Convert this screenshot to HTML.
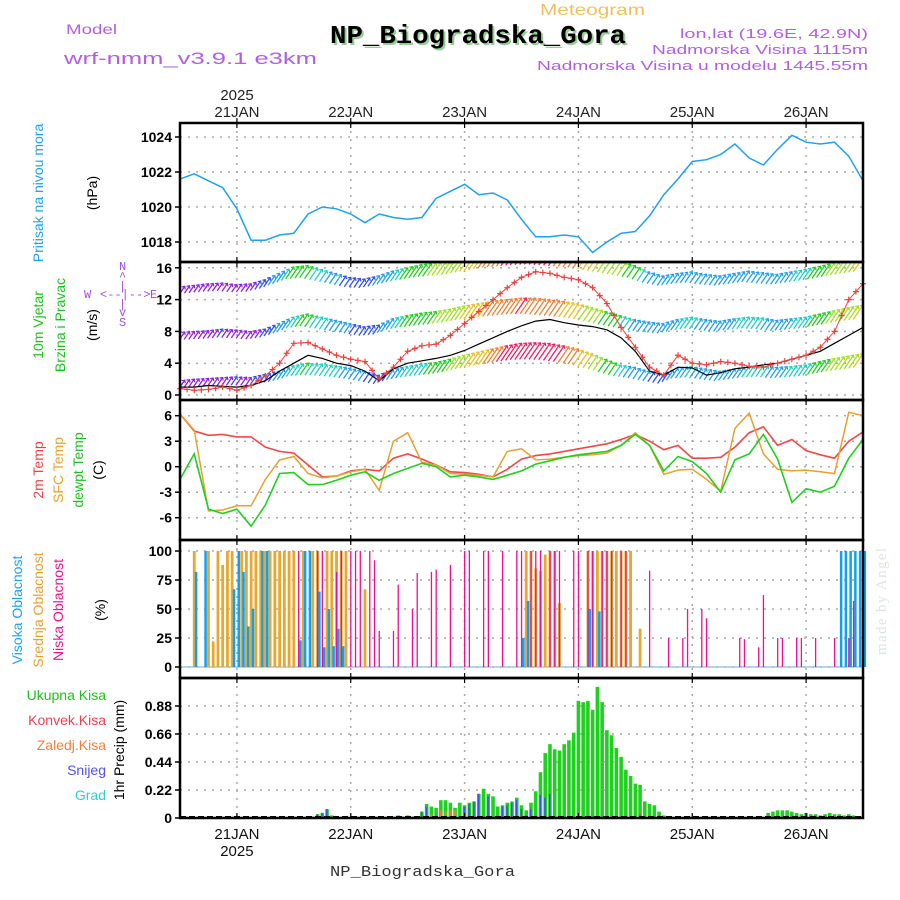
<!DOCTYPE html>
<html><head><meta charset="utf-8"><style>
html,body{margin:0;padding:0;background:#fff;}
svg{display:block;font-family:"Liberation Sans",sans-serif;}
</style></head><body>
<svg id="chart" xmlns="http://www.w3.org/2000/svg" width="900" height="900" viewBox="0 0 900 900">
<rect x="0" y="0" width="900" height="900" fill="#fff"/>
<text x="540" y="15" font-size="16" fill="#f0c060" textLength="105" lengthAdjust="spacingAndGlyphs">Meteogram</text>
<text x="332" y="45" font-size="26" font-weight="bold" font-family="Liberation Mono, monospace" fill="#9c9" textLength="296" lengthAdjust="spacingAndGlyphs">NP_Biogradska_Gora</text>
<text x="330" y="43" font-size="26" font-weight="bold" font-family="Liberation Mono, monospace" fill="#000" textLength="296" lengthAdjust="spacingAndGlyphs">NP_Biogradska_Gora</text>
<text x="66" y="34" font-size="14" fill="#b060e0" textLength="51" lengthAdjust="spacingAndGlyphs">Model</text>
<text x="64" y="64" font-size="17" fill="#b060e0" textLength="253" lengthAdjust="spacingAndGlyphs">wrf-nmm_v3.9.1 e3km</text>
<text x="868" y="38" font-size="13" fill="#b060e0" text-anchor="end" textLength="188" lengthAdjust="spacingAndGlyphs">lon,lat (19.6E, 42.9N)</text>
<text x="868" y="54" font-size="13" fill="#b060e0" text-anchor="end" textLength="216" lengthAdjust="spacingAndGlyphs">Nadmorska Visina 1115m</text>
<text x="868" y="70" font-size="13" fill="#b060e0" text-anchor="end" textLength="331" lengthAdjust="spacingAndGlyphs">Nadmorska Visina u modelu 1445.55m</text>
<text x="237" y="100" font-size="15" fill="#222" text-anchor="middle">2025</text>
<text x="330" y="876" font-size="15" font-family="Liberation Mono, monospace" fill="#333" textLength="185" lengthAdjust="spacingAndGlyphs">NP_Biogradska_Gora</text>
<text transform="translate(886,655) rotate(-90)" font-size="15" font-family="Liberation Serif, serif" fill="#dde5dd" textLength="107">made by Angel</text>
<!-- left axis titles -->
<text transform="translate(43,193) rotate(-90)" font-size="14" fill="#20a0f0" text-anchor="middle">Pritisak na nivou mora</text>
<text transform="translate(97,193) rotate(-90)" font-size="14" fill="#000" text-anchor="middle">(hPa)</text>
<text transform="translate(43,325) rotate(-90)" font-size="14" fill="#20c020" text-anchor="middle">10m Vjetar</text>
<text transform="translate(65,325) rotate(-90)" font-size="14" fill="#20c020" text-anchor="middle">Brzina i Pravac</text>
<text transform="translate(97,325) rotate(-90)" font-size="14" fill="#000" text-anchor="middle">(m/s)</text>
<g font-size="12" fill="#a050e0" font-family="Liberation Mono, monospace">
<text x="119" y="270">N</text><text x="119" y="280">^</text><text x="119" y="290">|</text>
<text x="100" y="298">&lt;--|--&gt;</text><text x="84" y="298">W</text><text x="150" y="298">E</text>
<text x="119" y="308">|</text><text x="119" y="316">v</text><text x="119" y="326">S</text>
</g>
<text transform="translate(43,470) rotate(-90)" font-size="14" fill="#f04040" text-anchor="middle">2m Temp</text>
<text transform="translate(63,470) rotate(-90)" font-size="14" fill="#e8a030" text-anchor="middle">SFC Temp</text>
<text transform="translate(83,470) rotate(-90)" font-size="14" fill="#20c020" text-anchor="middle">dewpt Temp</text>
<text transform="translate(103,470) rotate(-90)" font-size="14" fill="#000" text-anchor="middle">(C)</text>
<text transform="translate(22,610) rotate(-90)" font-size="14" fill="#20a0f0" text-anchor="middle">Visoka Oblacnost</text>
<text transform="translate(43,610) rotate(-90)" font-size="14" fill="#e8a030" text-anchor="middle">Srednja Oblacnost</text>
<text transform="translate(63,610) rotate(-90)" font-size="14" fill="#f01090" text-anchor="middle">Niska Oblacnost</text>
<text transform="translate(105,610) rotate(-90)" font-size="14" fill="#000" text-anchor="middle">(%)</text>
<g font-size="14" text-anchor="end">
<text x="106" y="700" fill="#20c020">Ukupna Kisa</text>
<text x="106" y="725" fill="#f04050">Konvek.Kisa</text>
<text x="106" y="750" fill="#f08040">Zaledj.Kisa</text>
<text x="106" y="775" fill="#5050f0">Snijeg</text>
<text x="106" y="800" fill="#30d0d0">Grad</text>
</g>
<text transform="translate(124,750) rotate(-90)" font-size="14" fill="#000" text-anchor="middle">1hr Precip (mm)</text>
<g id="plot"></g>
</svg>
<script>
// ---- data (hour 0 = 20 JAN 12:00, 3-hourly for lines) ----
const dayLabels = ["21JAN","22JAN","23JAN","24JAN","25JAN","26JAN"];
const dayHours = [12,36,60,84,108,132];
const pressure = [1021.6,1021.9,1021.5,1021.1,1019.9,1018.1,1018.1,1018.4,1018.5,1019.6,1020.0,1019.9,1019.6,1019.1,1019.6,1019.4,1019.3,1019.4,1020.5,1020.9,1021.3,1020.7,1020.8,1020.4,1019.3,1018.3,1018.3,1018.4,1018.3,1017.4,1018.0,1018.5,1018.6,1019.5,1020.7,1021.6,1022.6,1022.7,1023.0,1023.6,1022.8,1022.4,1023.3,1024.1,1023.7,1023.6,1023.7,1022.9,1021.5];
const windSpeed = [1.0,1.0,1.2,1.1,1.0,1.2,1.8,3.0,4.0,5.0,4.6,4.0,3.7,3.0,1.8,3.3,4.0,4.3,4.6,5.0,5.6,6.4,7.2,8.0,8.7,9.3,9.5,9.1,8.8,8.6,8.2,7.2,5.5,3.0,2.5,3.5,3.4,2.5,2.8,3.3,3.5,3.8,4.0,4.5,5.0,5.5,6.5,7.5,8.5];
const windGust = [0.8,0.6,0.7,1.0,0.6,1.2,2.4,4.0,6.5,6.6,5.8,5.0,4.5,4.2,2.0,3.5,5.5,6.2,6.4,7.5,9.0,10.5,12.0,13.5,14.8,15.5,15.3,14.8,14.5,13.5,11.5,8.5,6.0,3.5,2.5,5.0,4.0,3.8,4.2,4.0,3.6,3.5,4.0,4.5,5.0,6.0,8.0,12.0,14.0];
const windRowLow = [1.8,2.0,2.1,2.2,2.3,2.2,2.6,3.0,3.7,4.0,3.9,3.7,3.4,3.0,2.5,3.2,3.6,3.9,4.1,4.5,5.0,5.4,5.8,6.2,6.5,6.6,6.5,6.2,5.8,5.2,4.5,3.8,3.5,3.0,2.6,3.4,3.6,3.3,3.0,3.3,3.6,3.7,3.5,3.6,3.8,4.2,4.6,4.9,5.2];
const windRowMid = [7.9,8.0,8.1,8.3,8.2,8.0,8.3,9.0,9.8,10.2,9.8,9.4,9.0,8.6,8.8,9.6,10.0,10.3,10.5,10.8,11.2,11.5,11.8,12.0,12.2,12.2,12.0,11.8,11.5,11.0,10.5,10.0,9.5,9.2,9.0,9.5,9.8,9.5,9.3,9.6,9.8,9.7,9.4,9.6,9.8,10.2,10.6,11.0,11.3];
const windRowTop = [13.6,13.8,14.0,14.1,13.9,14.0,14.5,15.3,16.1,16.3,15.8,15.3,14.8,14.6,15.0,15.6,16.0,16.4,16.6,16.8,17.2,17.6,18.0,18.2,18.4,18.5,18.4,18.2,18.0,17.6,17.2,16.8,16.3,15.5,15.0,15.3,15.5,15.2,15.0,15.3,15.6,15.4,15.2,15.5,15.8,16.2,16.6,17.0,17.3];
const temp2m = [6.2,4.2,3.7,3.8,3.5,3.5,2.3,1.8,1.6,0.2,-1.2,-1.1,-0.5,-0.3,-0.5,1.0,1.5,0.9,0.2,-0.6,-0.7,-0.9,-1.2,-0.3,0.9,1.3,1.5,1.8,2.1,2.4,2.7,3.2,3.8,3.0,2.0,2.5,1.0,1.0,1.1,2.3,4.0,4.7,2.5,3.2,1.9,1.4,1.0,3.0,4.1];
const tempSfc = [6.2,4.3,-5.2,-5.1,-4.6,-4.6,-1.5,0.8,1.2,-0.8,-1.3,-1.1,-0.6,-0.3,-2.8,3.0,4.0,0.5,0.2,-0.8,-0.9,-1.0,-1.2,1.8,2.1,0.8,0.9,1.1,1.3,1.4,1.6,2.5,4.0,2.5,-0.9,-0.4,-0.3,-1.5,-2.9,4.5,6.3,1.5,-0.3,-0.5,-0.4,-0.6,-0.8,6.4,6.0];
const dewpt = [-1.5,1.5,-5.0,-5.5,-5.0,-7.0,-4.5,-0.8,-0.7,-2.1,-2.1,-1.6,-1.0,-0.6,-1.6,-0.8,-0.2,0.4,0.0,-1.2,-1.0,-1.2,-1.5,-1.0,-0.5,0.3,0.7,1.1,1.4,1.6,1.8,2.5,3.8,2.5,-0.5,1.2,0.6,-0.8,-3.0,0.8,1.5,3.8,0.9,-4.2,-2.6,-3.0,-2.3,1.0,3.2];
// clouds (hour, percent)
const midCloudHours = [3,6,7,8,9,10,11,13,14,15,16,17,18,19,20,21,22,23,24,26,28,29,31,32,33,34,35,39,73,74,75,76,77,78,79,80,86,87,88,89,90,91,92,93,94,95,97];
const midCloudVals = [100,100,22,100,88,100,100,100,100,100,100,100,100,100,100,100,100,100,100,100,100,100,100,100,100,100,100,67,100,100,85,83,97,100,100,55,100,100,100,100,100,100,100,100,100,100,33];
const highCloudHours = [3,5,11,12,13,14,15,17,18,25,26,27,29,30,31,32,33,34,72,73,86,88,139,140,141,142,143,144];
const highCloudVals = [82,100,67,100,82,35,50,100,100,23,100,100,65,17,50,18,33,18,25,57,50,48,100,100,100,100,100,100];
const lowCloudHours = [25,29,30,33,34,36,37,38,40,41,42,45,46,49,50,53,54,57,60,61,64,65,68,71,72,74,75,76,78,79,80,83,84,86,87,89,90,91,93,94,99,103,106,107,110,111,118,119,122,123,126,127,130,131,134,138,141,142];
const lowCloudVals = [100,100,100,82,100,100,100,100,100,92,31,31,71,50,81,82,84,88,100,100,100,100,100,100,100,100,100,100,100,100,100,100,100,100,100,100,100,100,100,100,83,25,25,50,50,42,25,24,17,62,25,25,25,25,25,25,25,57];
// precipitation (hour, mm)
const precipHours = [28,29,30,31,32,37,41,44,45,46,47,48,49,50,51,52,53,54,55,56,57,58,59,60,61,62,63,64,65,66,67,68,69,70,71,72,73,74,75,76,77,78,79,80,81,82,83,84,85,86,87,88,89,90,91,92,93,94,95,96,97,98,99,100,101,102,124,125,126,127,128,129,130,131,132,133,134,135,136,137,138,139,140,141,142];
const precipTotal = [0.01,0.03,0.04,0.07,0.02,0.01,0.01,0.01,0.01,0.02,0.01,0.02,0.01,0.01,0.05,0.11,0.09,0.08,0.14,0.14,0.12,0.08,0.12,0.10,0.12,0.13,0.19,0.23,0.19,0.17,0.09,0.10,0.12,0.13,0.16,0.10,0.06,0.12,0.21,0.36,0.51,0.58,0.54,0.53,0.58,0.61,0.67,0.92,0.91,0.92,0.85,1.03,0.91,0.69,0.65,0.55,0.48,0.38,0.33,0.27,0.26,0.13,0.11,0.10,0.05,0.02,0.04,0.05,0.06,0.06,0.06,0.05,0.04,0.03,0.04,0.03,0.03,0.02,0.03,0.04,0.03,0.03,0.02,0.03,0.02];
const snowHours = [29,30,31,51,52,60,61,62,63,65,68,69,70,71,72,73,74,76,77,78];
const snowVals = [0.03,0.04,0.07,0.05,0.09,0.09,0.11,0.13,0.19,0.17,0.09,0.10,0.12,0.14,0.07,0.02,0.07,0.18,0.16,0.19];
const freezeHours = [53,55,56,57,58];
const freezeVals = [0.03,0.06,0.05,0.06,0.06];
const convHours = [97,101];
const convVals = [0.03,0.02];
const pressTicks = [1018,1020,1022,1024];
const windTicks = [0,4,8,12,16];
const tempTicks = [-6,-3,0,3,6];
const cloudTicks = [0,25,50,75,100];
const precipTicks = [0,0.22,0.44,0.66,0.88];
const precipTickLabels = ["0","0.22","0.44","0.66","0.88"];

// ---- scales ----
const X0 = 180, X1 = 863, HMAX = 144;
const X = h => X0 + h * (X1 - X0) / HMAX;
const yP = p => 137 + (1024 - p) * 17.5;
const yW = v => 395 - v * 7.95;
const yT = t => 466.7 - t * 8.5;
const yC = c => 667 - c * 1.16;
const yR = r => 818 - r * 127.3;
const panels = [[123,262],[262,400],[400,540],[540,678],[678,818]];

const NS = "http://www.w3.org/2000/svg";
const plot = document.getElementById('plot');
function mk(tag, attrs, parent) {
  const e = document.createElementNS(NS, tag);
  for (const k in attrs) e.setAttribute(k, attrs[k]);
  (parent || plot).appendChild(e);
  return e;
}
const defs = mk('defs', {});
panels.forEach((p, i) => {
  const cp = mk('clipPath', {id: 'clip' + i}, defs);
  mk('rect', {x: X0, y: p[0], width: X1 - X0, height: p[1] - p[0]}, cp);
});
function hgrid(vals, yf) {
  vals.forEach(v => {
    const l = mk('line', {x1: X0, x2: X1, y1: yf(v), y2: yf(v), stroke: '#aaa', 'stroke-width': 1.5, 'stroke-dasharray': '2,6'});
    
    
  });
}
panels.forEach((p, i) => {
  dayHours.forEach(h => {
    const l = mk('line', {x1: X(h), x2: X(h), y1: p[0], y2: p[1], stroke: '#aaa', 'stroke-width': 1.5, 'stroke-dasharray': '2,6'});
    
    
  });
});
hgrid(pressTicks, yP); hgrid(windTicks, yW); hgrid(tempTicks, yT); hgrid(cloudTicks, yC); hgrid(precipTicks.slice(1), yR);

function ylabels(vals, labels, yf, name) {
  vals.forEach((v, i) => {
    const t = mk('text', {x: 172, y: yf(v) + 5, 'text-anchor': 'end', 'font-size': 14, 'font-weight': 'bold', fill: '#000'});
    t.textContent = labels ? labels[i] : String(v);
    
    
    mk('line', {x1: X0 - 5, x2: X0, y1: yf(v), y2: yf(v), stroke: '#000', 'stroke-width': 1.5});
  });
}
ylabels(pressTicks, null, yP, 'pressure-tick-label');
ylabels(windTicks, null, yW, 'wind-tick-label');
ylabels(tempTicks, null, yT, 'temp-tick-label');
ylabels(cloudTicks, null, yC, 'cloud-tick-label');
ylabels(precipTicks, precipTickLabels, yR, 'precip-tick-label');

function poly(arr, yf, color, w, clip, name) {
  const pts = arr.map((v, i) => X(i * 3).toFixed(1) + ',' + yf(v).toFixed(1)).join(' ');
  const p = mk('polyline', {points: pts, fill: 'none', stroke: color, 'stroke-width': w, 'clip-path': 'url(#clip' + clip + ')'});
  
  
  return p;
}
poly(pressure, yP, '#20a0f0', 1.5, 0, 'pressure-line');

function windColor(s) {
  if (s < 2.3) return '#9020e0';
  if (s < 3.0) return '#3050f0';
  if (s < 3.6) return '#20a0f0';
  if (s < 4.0) return '#20d0c0';
  if (s < 4.6) return '#20d020';
  if (s < 5.2) return '#a0e020';
  if (s < 5.8) return '#e8c020';
  if (s < 6.2) return '#f08030';
  return '#f02060';
}
const windG = mk('g', {'clip-path': 'url(#clip1)'});


function windRow(arr, off, name) {
  for (let h = 0; h <= HMAX; h++) {
    const i = Math.floor(h / 3), f = (h % 3) / 3;
    const v = i >= arr.length - 1 ? arr[arr.length - 1] : arr[i] * (1 - f) + arr[i + 1] * f;
    const x = X(h), y = yW(v);
    const s = v - off;
    const len = 5 + s * 2.4;
    const ln = mk('line', {x1: x - len * 0.55, y1: y + len * 0.8, x2: x, y2: y, stroke: windColor(s), 'stroke-width': 1.3}, windG);
    
    
    mk('polyline', {points: (x - 3) + ',' + (y + 0.5) + ' ' + x + ',' + y + ' ' + (x + 0.5) + ',' + (y + 3), fill: 'none', stroke: windColor(s), 'stroke-width': 1.2}, windG);
  }
}
windRow(windRowLow, 0, 'wind-arrow-10m');
windRow(windRowMid, 6, 'wind-arrow-mid');
windRow(windRowTop, 12, 'wind-arrow-top');
poly(windSpeed, yW, '#000', 1.2, 1, 'wind-speed-line');
poly(windGust, yW, '#f04040', 1, 1, 'wind-gust-line');
for (let h = 0; h <= HMAX; h += 1.5) {
  const i = Math.floor(h / 3), f = (h % 3) / 3;
  const v = i >= windGust.length - 1 ? windGust[windGust.length - 1] : windGust[i] * (1 - f) + windGust[i + 1] * f;
  const x = X(h), y = yW(v);
  if (y < 264) continue;
  const c = mk('path', {d: `M${x-3},${y}h6M${x},${y-3}v6`, stroke: '#f04040', 'stroke-width': 1.2});
  
  
}
poly(temp2m, yT, '#f04848', 1.6, 2, 'temp-2m-line');
poly(tempSfc, yT, '#e8a030', 1.5, 2, 'temp-sfc-line');
poly(dewpt, yT, '#20d020', 1.6, 2, 'dewpoint-line');

mk('line', {x1: X0, x2: X1, y1: yC(0), y2: yC(0), stroke: '#9cc8e0', 'stroke-width': 1.5});
function cloudBars(hours, vals, color, w, dx, name) {
  hours.forEach((h, i) => {
    const b = mk('rect', {x: X(h) + dx, y: yC(vals[i]), width: w, height: yC(0) - yC(vals[i]), fill: color});
    
    
  });
}
cloudBars(midCloudHours, midCloudVals, '#e8a830', 2.8, -1.4, 'mid-cloud-bar');
cloudBars(highCloudHours, highCloudVals, '#10a0f0', 2.5, 0.6, 'high-cloud-bar');
cloudBars(lowCloudHours, lowCloudVals, '#f01090', 1.3, -0.6, 'low-cloud-bar');

function precipBars(hours, vals, color, w, dx, name) {
  hours.forEach((h, i) => {
    const b = mk('rect', {x: X(h) + dx, y: yR(vals[i]), width: w, height: yR(0) - yR(vals[i]), fill: color, 'clip-path': 'url(#clip4)'});
    
    
  });
}
precipBars(precipHours, precipTotal, '#20d020', 3.6, -1.8, 'precip-total-bar');
precipBars(snowHours, snowVals, '#4050f0', 1.5, -1.0, 'precip-snow-bar');
precipBars(freezeHours, freezeVals, '#f08030', 1.8, -0.9, 'precip-freezing-bar');
precipBars(convHours, convVals, '#f03040', 1.8, -0.9, 'precip-convective-bar');
mk('line', {x1: X0, x2: X1, y1: 817, y2: 817, stroke: '#000', 'stroke-width': 2, 'stroke-dasharray': '6,3'});

panels.forEach((p, i) => {
  const r = mk('rect', {x: X0, y: p[0], width: X1 - X0, height: p[1] - p[0], fill: 'none', stroke: '#000', 'stroke-width': 2.5});
  
  
  dayHours.forEach(h => {
    mk('line', {x1: X(h), x2: X(h), y1: p[1] - 5, y2: p[1], stroke: '#000', 'stroke-width': 1.2});
    mk('line', {x1: X(h), x2: X(h), y1: p[0], y2: p[0] + 5, stroke: '#000', 'stroke-width': 1.2});
  });
});
dayLabels.forEach((d, i) => {
  const t = mk('text', {x: X(dayHours[i]), y: 117, 'text-anchor': 'middle', 'font-size': 15, fill: '#222'});
  t.textContent = d;
  
  
  mk('line', {x1: X(dayHours[i]), x2: X(dayHours[i]), y1: 118, y2: 123, stroke: '#000', 'stroke-width': 1.2});
  const b = mk('text', {x: X(dayHours[i]), y: 839, 'text-anchor': 'middle', 'font-size': 15, fill: '#111'});
  b.textContent = d;
  
  
});
const yr = mk('text', {x: X(dayHours[0]), y: 856, 'text-anchor': 'middle', 'font-size': 15, fill: '#111'});
yr.textContent = '2025';


</script>
</body></html>
